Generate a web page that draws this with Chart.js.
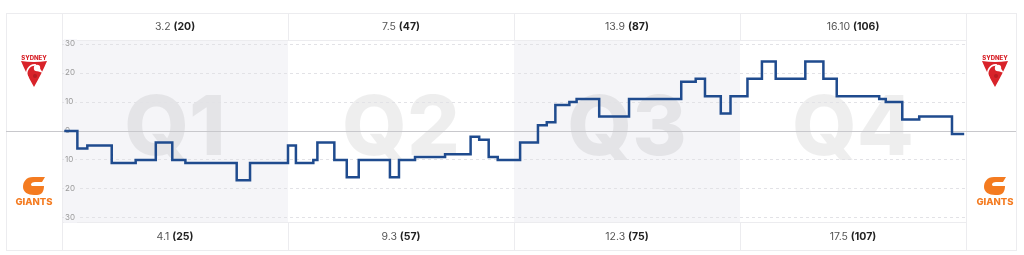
<!DOCTYPE html>
<html>
<head>
<meta charset="utf-8">
<script src="https://cdn.jsdelivr.net/npm/chart.js@4.4.0/dist/chart.umd.min.js"></script>
<style>
  html, body { margin: 0; padding: 0; background: #fff; }
  #wrap { width: 1024px; height: 255px; }
</style>
</head>
<body>
<div id="wrap"><canvas id="worm" width="1024" height="255"></canvas></div>
<script>
const quarters = ["Q1", "Q2", "Q3", "Q4"];
const sydneyScores = ["3.2", "7.5", "13.9", "16.10"];
const sydneyTotals = [20, 47, 87, 106];
const giantsScores = ["4.1", "9.3", "12.3", "17.5"];
const giantsTotals = [25, 57, 75, 107];

// game time in quarters (0 - 4) and the margin (Sydney minus Giants) after each score
const eventTimes = [0.01, 0.068, 0.112, 0.220, 0.326, 0.415, 0.488, 0.546, 0.773, 0.832,
    1.000, 1.035, 1.112, 1.130, 1.205, 1.260, 1.313, 1.451, 1.491, 1.562,
    1.695, 1.808, 1.846, 1.888, 1.928, 2.027, 2.106, 2.145, 2.183, 2.245,
    2.277, 2.377, 2.509, 2.740, 2.804, 2.845, 2.915, 2.958, 3.033, 3.097,
    3.158, 3.289, 3.369, 3.428, 3.616, 3.645, 3.718, 3.793, 3.938, 3.992];
const margins = [0, -6, -5, -11, -10, -4, -10, -11, -17, -11,
    -5, -11, -10, -4, -10, -16, -10, -16, -10, -9,
    -8, -2, -3, -9, -10, -4, 2, 3, 9, 10,
    11, 5, 11, 17, 18, 12, 6, 12, 18, 24,
    18, 24, 18, 12, 11, 10, 4, 5, -1, -1];

const FONT = "Inter, 'Noto Sans', sans-serif";
const SHADE = "#f5f5f8";
const LINE = "#ececef";
const box = { left: 6, right: 1016, top: 13, bottom: 250 };

function drawScore(ctx, text, total, cx, cy) {
    ctx.textBaseline = "middle";
    ctx.textAlign = "left";
    ctx.font = "400 10.5px " + FONT;
    let first = text + " ";
    let w1 = ctx.measureText(first).width;
    ctx.font = "700 10.5px " + FONT;
    let second = "(" + total + ")";
    let w2 = ctx.measureText(second).width;
    let start = cx - (w1 + w2) / 2;
    ctx.font = "400 10.5px " + FONT;
    ctx.fillStyle = "#555";
    ctx.fillText(first, start, cy);
    ctx.font = "700 10.5px " + FONT;
    ctx.fillStyle = "#222";
    ctx.fillText(second, start + w1, cy);
}

function drawSwans(ctx, cx, top) {
    ctx.fillStyle = "#d8232a";
    ctx.font = "800 6px " + FONT;
    ctx.textAlign = "center";
    ctx.textBaseline = "middle";
    ctx.fillText("SYDNEY", cx, top + 3);
    let t = top + 6;
    ctx.beginPath();
    ctx.moveTo(cx - 13, t);
    ctx.quadraticCurveTo(cx, t + 2, cx + 13, t);
    ctx.quadraticCurveTo(cx + 8, t + 12, cx, t + 26);
    ctx.quadraticCurveTo(cx - 8, t + 12, cx - 13, t);
    ctx.fill();
    // white swan neck and head
    ctx.strokeStyle = "#fff";
    ctx.lineWidth = 1.6;
    ctx.beginPath();
    ctx.moveTo(cx - 6, t + 17);
    ctx.bezierCurveTo(cx - 10, t + 10, cx - 4, t + 3, cx + 2, t + 4);
    ctx.stroke();
    ctx.fillStyle = "#fff";
    ctx.beginPath();
    ctx.arc(cx + 3, t + 7, 3.2, 0, Math.PI * 2);
    ctx.fill();
    ctx.beginPath();
    ctx.moveTo(cx + 5, t + 6);
    ctx.lineTo(cx + 9, t + 12);
    ctx.lineTo(cx + 3, t + 10);
    ctx.fill();
    ctx.fillStyle = "#b81c22";
    ctx.beginPath();
    ctx.arc(cx + 1, t + 15, 2, 0, Math.PI * 2);
    ctx.fill();
}

function drawGiants(ctx, cx, top) {
    ctx.fillStyle = "#f47b20";
    ctx.beginPath();
    ctx.moveTo(cx + 11, top);
    ctx.lineTo(cx - 1, top);
    ctx.bezierCurveTo(cx - 8, top, cx - 11, top + 5, cx - 11, top + 10);
    ctx.bezierCurveTo(cx - 11, top + 15, cx - 6, top + 18, cx, top + 18);
    ctx.lineTo(cx + 3, top + 18);
    ctx.bezierCurveTo(cx + 8, top + 18, cx + 10, top + 14, cx + 10, top + 9);
    ctx.lineTo(cx - 2, top + 9);
    ctx.bezierCurveTo(cx - 4, top + 8, cx - 3, top + 5, cx + 1, top + 5);
    ctx.lineTo(cx + 8, top + 5);
    ctx.closePath();
    ctx.fill();
    ctx.font = "800 9.5px " + FONT;
    ctx.textAlign = "center";
    ctx.textBaseline = "alphabetic";
    ctx.fillText("GIANTS", cx, top + 28);
}

const wormPlugin = {
    id: "worm",
    beforeDraw(chart) {
        const { ctx, chartArea: a, scales: { x, y } } = chart;
        ctx.save();
        let zero = y.getPixelForValue(0);

        quarters.forEach((q, i) => {
            let x0 = x.getPixelForValue(i);
            let x1 = x.getPixelForValue(i + 1);
            if (i % 2 === 0) {
                ctx.fillStyle = SHADE;
                ctx.fillRect(x0, a.top, x1 - x0, a.bottom - a.top);
            }
            ctx.fillStyle = "rgba(0, 0, 0, 0.065)";
            ctx.font = "800 83px " + FONT;
            ctx.textAlign = "center";
            ctx.textBaseline = "alphabetic";
            ctx.fillText(q, (x0 + x1) / 2, zero + 24);

            drawScore(ctx, sydneyScores[i], sydneyTotals[i], (x0 + x1) / 2, 26.5);
            drawScore(ctx, giantsScores[i], giantsTotals[i], (x0 + x1) / 2, 236.5);
        });

        // table lines
        ctx.strokeStyle = LINE;
        ctx.lineWidth = 1;
        ctx.strokeRect(box.left + 0.5, box.top + 0.5, box.right - box.left, box.bottom - box.top);
        ctx.beginPath();
        [a.left, a.right].forEach(px => {
            ctx.moveTo(Math.round(px) + 0.5, box.top);
            ctx.lineTo(Math.round(px) + 0.5, box.bottom);
        });
        for (let i = 1; i < quarters.length; i++) {
            let px = Math.round(x.getPixelForValue(i)) + 0.5;
            ctx.moveTo(px, box.top);
            ctx.lineTo(px, a.top);
            ctx.moveTo(px, a.bottom);
            ctx.lineTo(px, box.bottom);
        }
        ctx.moveTo(a.left, Math.round(a.top) + 0.5);
        ctx.lineTo(a.right, Math.round(a.top) + 0.5);
        ctx.moveTo(a.left, Math.round(a.bottom) + 0.5);
        ctx.lineTo(a.right, Math.round(a.bottom) + 0.5);
        ctx.stroke();

        let leftMid = (box.left + a.left) / 2;
        let rightMid = (a.right + box.right) / 2 + 4;
        drawSwans(ctx, leftMid, 55);
        drawSwans(ctx, rightMid, 55);
        drawGiants(ctx, leftMid, 177);
        drawGiants(ctx, rightMid, 177);
        ctx.restore();
    },
    beforeDatasetsDraw(chart) {
        const { ctx, scales: { y } } = chart;
        let zero = Math.round(y.getPixelForValue(0)) + 0.5;
        ctx.save();
        ctx.strokeStyle = "#c8c8cc";
        ctx.lineWidth = 1;
        ctx.beginPath();
        ctx.moveTo(box.left, zero);
        ctx.lineTo(box.right, zero);
        ctx.stroke();
        ctx.restore();
    }
};

new Chart(document.getElementById("worm"), {
    type: "line",
    data: {
        datasets: [{
            data: eventTimes.map((t, i) => ({ x: t, y: margins[i] })),
            stepped: "before",
            borderColor: "#1f4b8e",
            borderWidth: 2.5,
            borderJoinStyle: "miter",
            pointRadius: 0,
            fill: false
        }]
    },
    options: {
        responsive: false,
        animation: false,
        devicePixelRatio: 1,
        layout: { padding: { left: 62, right: 58, top: 40, bottom: 33 } },
        plugins: { legend: { display: false }, tooltip: { enabled: false } },
        scales: {
            x: { type: "linear", min: 0, max: 4, display: false },
            y: {
                min: -31.4,
                max: 31.4,
                afterFit: scale => { scale.width = 0; },
                grid: { color: "#e2e2e6", drawTicks: false },
                border: { display: false, dash: [3, 3] },
                ticks: {
                    stepSize: 10,
                    includeBounds: false,
                    mirror: true,
                    padding: 3,
                    color: "#9a9a9a",
                    font: { family: FONT, size: 8 },
                    callback: v => Math.abs(v),
                    showLabelBackdrop: true,
                    backdropColor: SHADE,
                    backdropPadding: { left: 1, right: 2, top: 0, bottom: 0 }
                }
            }
        }
    },
    plugins: [wormPlugin]
});
</script>
</body>
</html>
